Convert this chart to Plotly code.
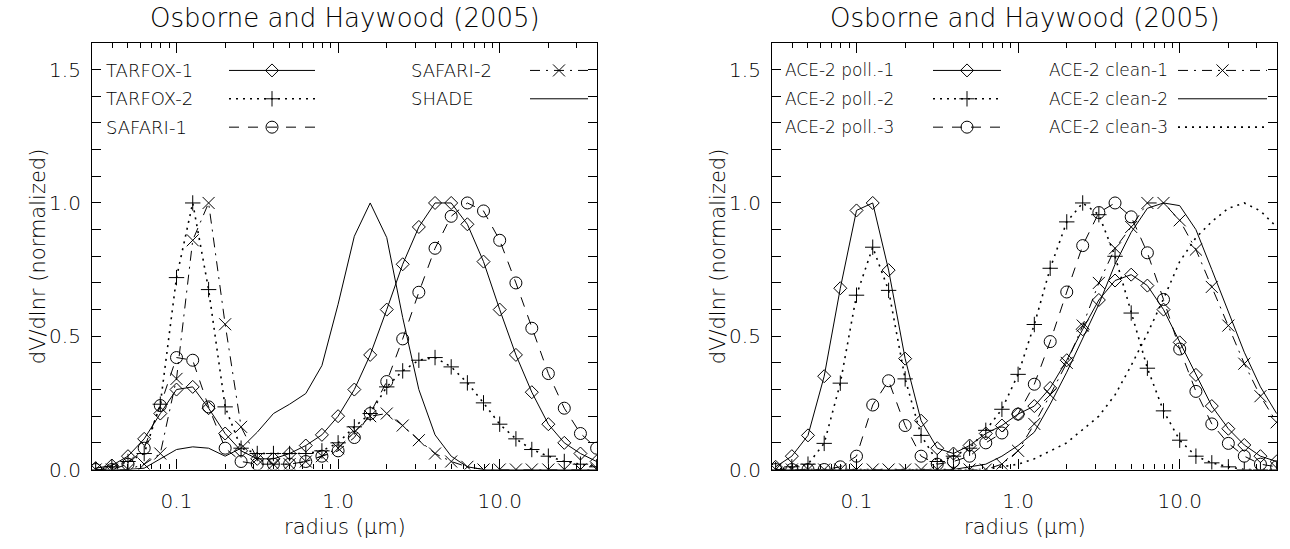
import plotly.graph_objects as go

# Bin-centre radii (micron), 10 bins per decade
radius = [0.0316, 0.0398, 0.0501, 0.0631, 0.0794, 0.100, 0.126, 0.158,
          0.200, 0.251, 0.316, 0.398, 0.501, 0.631, 0.794, 1.00,
          1.26, 1.58, 2.00, 2.51, 3.16, 3.98, 5.01, 6.31,
          7.94, 10.0, 12.6, 15.8, 20.0, 25.1, 31.6, 39.8]

# Left panel: normalized dV/dlnr
tarfox_1 = [0.005, 0.015, 0.05, 0.115, 0.21, 0.30, 0.31, 0.23, 0.135, 0.07,
            0.04, 0.04, 0.06, 0.09, 0.13, 0.20, 0.30, 0.43, 0.60, 0.77,
            0.91, 1.00, 1.00, 0.92, 0.78, 0.60, 0.43, 0.29, 0.17, 0.10,
            0.06, 0.03]
tarfox_2 = [0.0, 0.01, 0.03, 0.06, 0.245, 0.72, 1.0, 0.675, 0.235, 0.08,
            0.06, 0.06, 0.06, 0.06, 0.07, 0.10, 0.16, 0.21, 0.31, 0.37,
            0.41, 0.42, 0.385, 0.325, 0.25, 0.17, 0.115, 0.075, 0.05, 0.03,
            0.02, 0.01]
safari_1 = [0.0, 0.0, 0.02, 0.08, 0.24, 0.42, 0.41, 0.235, 0.08, 0.03,
            0.02, 0.02, 0.02, 0.03, 0.05, 0.07, 0.12, 0.21, 0.33, 0.49,
            0.665, 0.83, 0.95, 1.0, 0.97, 0.86, 0.70, 0.53, 0.36, 0.23,
            0.135, 0.08]
safari_2 = [0.0, 0.0, 0.0, 0.02, 0.06, 0.34, 0.86, 1.0, 0.545, 0.16,
            0.04, 0.02, 0.02, 0.03, 0.05, 0.08, 0.14, 0.20, 0.21, 0.165,
            0.11, 0.06, 0.03, 0.01, 0.0, 0.0, 0.0, 0.0, 0.0, 0.0,
            0.0, 0.0]
shade = [0.0, 0.0, 0.0, 0.005, 0.04, 0.075, 0.085, 0.08, 0.05, 0.08,
         0.14, 0.21, 0.245, 0.285, 0.39, 0.62, 0.875, 1.0, 0.87, 0.57,
         0.30, 0.13, 0.05, 0.01, 0.0, 0.0, 0.0, 0.0, 0.0, 0.0,
         0.0, 0.0]

# Right panel: normalized dV/dlnr
ace_poll_1 = [0.01, 0.05, 0.128, 0.35, 0.68, 0.972, 1.0, 0.748, 0.416, 0.183,
              0.08, 0.06, 0.09, 0.135, 0.165, 0.208, 0.238, 0.306, 0.41, 0.526,
              0.636, 0.709, 0.731, 0.69, 0.60, 0.477, 0.355, 0.238, 0.153, 0.092,
              0.05, 0.03]
ace_poll_2 = [0.0, 0.01, 0.02, 0.098, 0.324, 0.654, 0.834, 0.672, 0.34, 0.128,
              0.03, 0.05, 0.08, 0.147, 0.226, 0.357, 0.544, 0.755, 0.929, 1.0,
              0.956, 0.80, 0.587, 0.38, 0.22, 0.11, 0.05, 0.025, 0.01, 0.0,
              0.0, 0.0]
ace_poll_3 = [0.0, 0.0, 0.0, 0.0, 0.01, 0.05, 0.242, 0.333, 0.165, 0.05,
              0.02, 0.03, 0.05, 0.10, 0.137, 0.208, 0.32, 0.48, 0.666, 0.84,
              0.964, 1.0, 0.948, 0.813, 0.638, 0.452, 0.293, 0.171, 0.098, 0.05,
              0.02, 0.01]
ace_clean_1 = [0.0, 0.0, 0.0, 0.0, 0.0, 0.0, 0.0, 0.0, 0.0, 0.0,
               0.0, 0.0, 0.0, 0.0, 0.02, 0.07, 0.171, 0.28, 0.40, 0.54,
               0.70, 0.83, 0.91, 1.0, 1.0, 0.935, 0.825, 0.685, 0.54, 0.397,
               0.275, 0.177]
ace_clean_2 = [0.0, 0.0, 0.0, 0.0, 0.0, 0.0, 0.0, 0.0, 0.0, 0.0,
               0.0, 0.0, 0.01, 0.02, 0.05, 0.09, 0.14, 0.245, 0.365, 0.49,
               0.62, 0.77, 0.89, 0.98, 1.0, 0.99, 0.90, 0.75, 0.59, 0.44,
               0.31, 0.21]
ace_clean_3 = [0.0, 0.0, 0.0, 0.0, 0.0, 0.0, 0.0, 0.0, 0.0, 0.0,
               0.0, 0.0, 0.0, 0.0, 0.01, 0.02, 0.04, 0.07, 0.10, 0.15,
               0.20, 0.28, 0.39, 0.51, 0.64, 0.78, 0.87, 0.93, 0.98, 1.0,
               0.97, 0.91]

title_text = "Osborne and Haywood (2005)"
x_title = "radius (\u03bcm)"
y_title = "dV/dlnr (normalized)"
x_tickvals = [0.1, 1.0, 10.0]
x_ticktext = ["0.1", "1.0", "10.0"]
y_tickvals = [0.0, 0.5, 1.0, 1.5]
y_ticktext = ["0.0", "0.5", "1.0", "1.5"]

# ---- page geometry (pixels) ----
W, H = 1290, 549
PLOT_TOP, PLOT_BOTTOM = 44, 480
PANELS = [(92, 597), (772, 1277)]
FONT = "DejaVu Sans"
WEIGHT = 200
INK = "black"


def font(size):
    return dict(family=FONT, size=size, weight=WEIGHT, color=INK)


# line / marker styles
DOT = "2px,5px"
DASH = "10px,9px"
DASHDOT = "10px,6px,2px,6px"
STYLES = {
    "diamond": dict(symbol="diamond-open", size=10),
    "plus": dict(symbol="cross-thin-open", size=11),
    "circle": dict(symbol="circle-open", size=12),
    "x": dict(symbol="x-thin-open", size=12),
}

left_series = [
    ("TARFOX-1", tarfox_1, "solid", "diamond"),
    ("TARFOX-2", tarfox_2, DOT, "plus"),
    ("SAFARI-1", safari_1, DASH, "circle"),
    ("SAFARI-2", safari_2, DASHDOT, "x"),
    ("SHADE", shade, "solid", None),
]
right_series = [
    ("ACE-2 poll.-1", ace_poll_1, "solid", "diamond"),
    ("ACE-2 poll.-2", ace_poll_2, DOT, "plus"),
    ("ACE-2 poll.-3", ace_poll_3, DASH, "circle"),
    ("ACE-2 clean-1", ace_clean_1, DASHDOT, "x"),
    ("ACE-2 clean-2", ace_clean_2, "solid", None),
    ("ACE-2 clean-3", ace_clean_3, DOT, None),
]

fig = go.Figure()


def add_series(name, ys, dash, marker, xa, ya):
    width = 1.6 if dash == DOT else 1.0
    tr = dict(x=radius, y=ys, name=name, xaxis=xa, yaxis=ya,
              line=dict(color=INK, width=width, dash=dash),
              showlegend=False, cliponaxis=True)
    if marker:
        tr["mode"] = "lines+markers"
        tr["marker"] = dict(color=INK, line=dict(color=INK, width=1),
                            **STYLES[marker])
    else:
        tr["mode"] = "lines"
    fig.add_trace(go.Scatter(**tr))


for s in left_series:
    add_series(*s, "x", "y")
for s in right_series:
    add_series(*s, "x2", "y2")

# ---- axes ----
minor_x = [0.03, 0.04, 0.05, 0.06, 0.07, 0.08, 0.09,
           0.2, 0.3, 0.4, 0.5, 0.6, 0.7, 0.8, 0.9,
           2, 3, 4, 5, 6, 7, 8, 9, 20, 30, 40]
minor_y = [0.1, 0.2, 0.3, 0.4, 0.6, 0.7, 0.8, 0.9, 1.1, 1.2, 1.3, 1.4, 1.6]
ydom = [(H - PLOT_BOTTOM) / H, (H - PLOT_TOP) / H]

for i, (x0, x1) in enumerate(PANELS):
    sfx = "" if i == 0 else str(i + 1)
    fig.update_layout(**{
        "xaxis" + sfx: dict(
            type="log", range=[-1.5229, 1.6021], domain=[x0 / W, x1 / W],
            anchor="y" + sfx, showline=True, linecolor=INK, linewidth=1.2,
            mirror="ticks", ticks="inside", ticklen=10, tickwidth=1,
            tickcolor=INK, tickmode="array", tickvals=x_tickvals,
            ticktext=x_ticktext, tickfont=font(20), ticklabelstandoff=13,
            showgrid=False, zeroline=False,
            minor=dict(tickmode="array", tickvals=minor_x, ticks="inside",
                       ticklen=5, tickwidth=1, tickcolor=INK, showgrid=False),
        ),
        "yaxis" + sfx: dict(
            range=[0, 1.6], domain=ydom, anchor="x" + sfx, showline=True,
            linecolor=INK, linewidth=1.2, mirror="ticks", ticks="inside",
            ticklen=9, tickwidth=1, tickcolor=INK, tickmode="array",
            tickvals=y_tickvals, ticktext=y_ticktext, tickfont=font(20),
            ticklabelstandoff=6, showgrid=False, zeroline=False,
            minor=dict(tickmode="array", tickvals=minor_y, ticks="inside",
                       ticklen=9, tickwidth=1, tickcolor=INK, showgrid=False),
        ),
    })

# overlay axis in page pixels for the in-plot keys
fig.update_layout(
    xaxis3=dict(domain=[0, 1], range=[0, W], visible=False, fixedrange=True,
                anchor="y3"),
    yaxis3=dict(domain=[0, 1], range=[H, 0], visible=False, fixedrange=True,
                anchor="x3"),
)

ROWS = [72, 101, 130]
left_keys = [  # (series index, text x, sample x0, x1, row)
    (0, 104, 229, 315, 0), (1, 104, 229, 315, 1), (2, 104, 229, 315, 2),
    (3, 409, 530, 588, 0), (4, 409, 530, 588, 1),
]
right_keys = [
    (0, 783, 933, 1001, 0), (1, 783, 933, 1001, 1), (2, 783, 933, 1001, 2),
    (3, 1047, 1178, 1267, 0), (4, 1047, 1178, 1267, 1), (5, 1047, 1178, 1267, 2),
]
annotations = []
for series, keys, fsize in ((left_series, left_keys, 18),
                            (right_series, right_keys, 17)):
    for idx, tx, sx0, sx1, row in keys:
        name, _, dash, marker = series[idx]
        yy = ROWS[row]
        width = 1.6 if dash == DOT else 1.0
        fig.add_trace(go.Scatter(
            x=[sx0, sx1], y=[yy, yy], mode="lines", xaxis="x3", yaxis="y3",
            line=dict(color=INK, width=width, dash=dash), showlegend=False,
            hoverinfo="skip"))
        if marker:
            fig.add_trace(go.Scatter(
                x=[(sx0 + sx1) / 2], y=[yy], mode="markers", xaxis="x3",
                yaxis="y3", showlegend=False, hoverinfo="skip",
                marker=dict(color=INK, line=dict(color=INK, width=1),
                            **STYLES[marker])))
        annotations.append(dict(
            x=tx, y=yy, xref="x3", yref="y3", text=name, showarrow=False,
            xanchor="left", yanchor="middle", font=font(fsize)))

for x0, x1 in PANELS:
    cx = (x0 + x1) / 2
    annotations.append(dict(
        x=cx, y=18, xref="x3", yref="y3", text=title_text, showarrow=False,
        xanchor="center", yanchor="middle", font=font(26)))
    annotations.append(dict(
        x=cx, y=539, xref="x3", yref="y3", text=x_title, showarrow=False,
        xanchor="center", yanchor="middle", font=font(21)))
    annotations.append(dict(
        x=x0 - 54, y=262, xref="x3", yref="y3", text=y_title, showarrow=False,
        xanchor="center", yanchor="middle", textangle=-90, font=font(21)))

fig.update_layout(
    width=W, height=H, margin=dict(l=0, r=0, t=0, b=0),
    paper_bgcolor="white", plot_bgcolor="rgba(0,0,0,0)",
    annotations=annotations, showlegend=False,
    font=font(20),
)

fig.write_html("out.html")
